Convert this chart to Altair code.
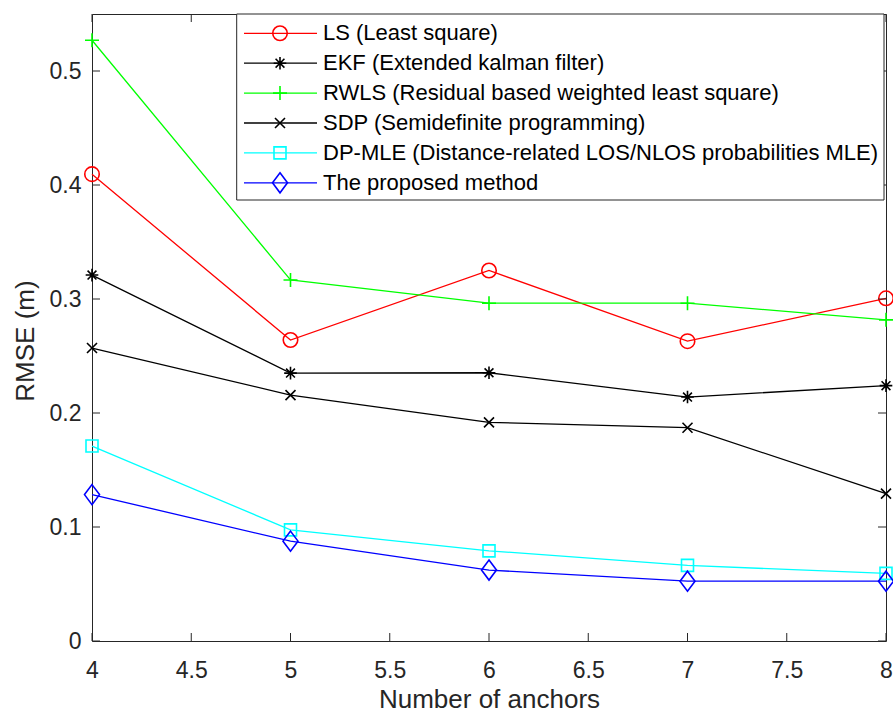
import altair as alt
import pandas as pd

# Number of anchors on the x axis
anchors = [4, 5, 6, 7, 8]

# RMSE (m) of each localisation method
ls_rmse = [0.4095, 0.264, 0.325, 0.263, 0.3006]
ekf_rmse = [0.321, 0.235, 0.2353, 0.214, 0.224]
rwls_rmse = [0.527, 0.3167, 0.2963, 0.2963, 0.2817]
sdp_rmse = [0.257, 0.2157, 0.1918, 0.1871, 0.1293]
dpmle_rmse = [0.171, 0.0975, 0.0791, 0.0663, 0.0593]
proposed_rmse = [0.1284, 0.0876, 0.0622, 0.0525, 0.0525]

method_names = [
    "LS (Least square)",
    "EKF (Extended kalman filter)",
    "RWLS (Residual based weighted least square)",
    "SDP (Semidefinite programming)",
    "DP-MLE (Distance-related LOS/NLOS probabilities MLE)",
    "The proposed method",
]
method_colors = ["#ff0000", "#000000", "#00ff00", "#000000", "#00ffff", "#0000ff"]
# marker outlines: circle, asterisk, plus, cross, square, diamond
marker_shapes = [
    "circle",
    "M-1,0L1,0M0,-1L0,1M-0.7,-0.7L0.7,0.7M-0.7,0.7L0.7,-0.7",
    "M-1,0L1,0M0,-1L0,1",
    "M-1,-1L1,1M-1,1L1,-1",
    "square",
    "M0,-1L0.75,0L0,1L-0.75,0Z",
]
marker_sizes = [210, 160, 196, 100, 144, 400]

x_ticks = [4, 4.5, 5, 5.5, 6, 6.5, 7, 7.5, 8]
y_ticks = [0, 0.1, 0.2, 0.3, 0.4, 0.5]

W, H = 794, 627
AX = "#262626"
FONT = "Liberation Sans"

series = [ls_rmse, ekf_rmse, rwls_rmse, sdp_rmse, dpmle_rmse, proposed_rmse]
rows = []
for name, vals in zip(method_names, series):
    for a, v in zip(anchors, vals):
        rows.append({"method": name, "anchors": a, "rmse": v})
df = pd.DataFrame(rows)

color_scale = alt.Scale(domain=method_names, range=method_colors)
shape_scale = alt.Scale(domain=method_names, range=marker_shapes)
size_scale = alt.Scale(type="ordinal", domain=method_names, range=marker_sizes)

x_enc = alt.X(
    "anchors:Q",
    scale=alt.Scale(domain=[4, 8], nice=False),
    axis=alt.Axis(
        values=x_ticks, format="~g", title="Number of anchors", labelFlush=False,
        titleX=W / 2, titleY=66, titleBaseline="alphabetic", titleAlign="center",
    ),
)
y_enc = alt.Y(
    "rmse:Q",
    scale=alt.Scale(domain=[0, 0.55], nice=False, zero=True),
    axis=alt.Axis(
        values=y_ticks, format="~g", title="RMSE (m)", labelFlush=False,
        titleX=-59, titleY=H / 2 + 13, titleAngle=270, titleBaseline="alphabetic",
        titleAlign="center",
    ),
)

lines = alt.Chart(df).mark_line(strokeWidth=1.3).encode(
    x=x_enc, y=y_enc,
    color=alt.Color("method:N", scale=color_scale, legend=None),
)
points = alt.Chart(df).mark_point(filled=False, strokeWidth=1.6, opacity=1).encode(
    x="anchors:Q", y="rmse:Q",
    color=alt.Color("method:N", scale=color_scale, legend=None),
    shape=alt.Shape("method:N", scale=shape_scale, legend=None),
    size=alt.Size("method:N", scale=size_scale, legend=None),
)

# inward tick marks on all four sides of the box
xt = pd.DataFrame({"anchors": x_ticks})
yt = pd.DataFrame({"rmse": y_ticks})
tick_style = dict(color=AX, strokeWidth=1)
ticks = alt.layer(
    alt.Chart(xt).mark_rule(**tick_style).encode(x="anchors:Q", y=alt.value(H), y2=alt.value(H - 8)),
    alt.Chart(xt).mark_rule(**tick_style).encode(x="anchors:Q", y=alt.value(0), y2=alt.value(8)),
    alt.Chart(yt).mark_rule(**tick_style).encode(y="rmse:Q", x=alt.value(0), x2=alt.value(8)),
    alt.Chart(yt).mark_rule(**tick_style).encode(y="rmse:Q", x=alt.value(W), x2=alt.value(W - 8)),
)

# legend box drawn inside the plot
leg_df = pd.DataFrame({"method": method_names, "row": list(range(len(method_names)))})
box = alt.Chart(pd.DataFrame({"k": [0]})).mark_rect(
    fill="white", stroke=AX, strokeWidth=1
).encode(x=alt.value(144.7), x2=alt.value(792), y=alt.value(0), y2=alt.value(186))

leg_base = alt.Chart(leg_df).transform_calculate(ly="19.3 + datum.row * 29.9")
leg_y = alt.Y("ly:Q", scale=None, axis=None)
leg_lines = leg_base.mark_rule(strokeWidth=1.3).encode(
    x=alt.value(152), x2=alt.value(225), y=leg_y,
    color=alt.Color("method:N", scale=color_scale, legend=None),
)
leg_marks = leg_base.mark_point(filled=False, strokeWidth=1.6, opacity=1).encode(
    x=alt.value(188), y=leg_y,
    color=alt.Color("method:N", scale=color_scale, legend=None),
    shape=alt.Shape("method:N", scale=shape_scale, legend=None),
    size=alt.Size("method:N", scale=size_scale, legend=None),
)
leg_text = leg_base.mark_text(
    align="left", baseline="middle", fontSize=22, font=FONT, color="#000000"
).encode(x=alt.value(231), y=leg_y, text="method:N")

chart = alt.layer(
    lines, points, ticks, box, leg_lines, leg_marks, leg_text
).properties(
    width=W, height=H,
    padding={"left": 92, "top": 14, "right": 7, "bottom": 72},
    autosize=alt.AutoSizeParams(type="none"),
    background="white",
).configure_view(
    stroke=AX, strokeWidth=1
).configure_axis(
    grid=False, domain=False, ticks=False,
    labelFont=FONT, labelFontSize=23, labelColor=AX,
    titleFont=FONT, titleFontSize=26, titleColor=AX, titleFontWeight="normal",
).configure_axisX(
    labelPadding=18, labelBaseline="top",
).configure_axisY(
    labelPadding=11,
)

chart.save("out.html", embed_options={"renderer": "svg", "actions": False})
